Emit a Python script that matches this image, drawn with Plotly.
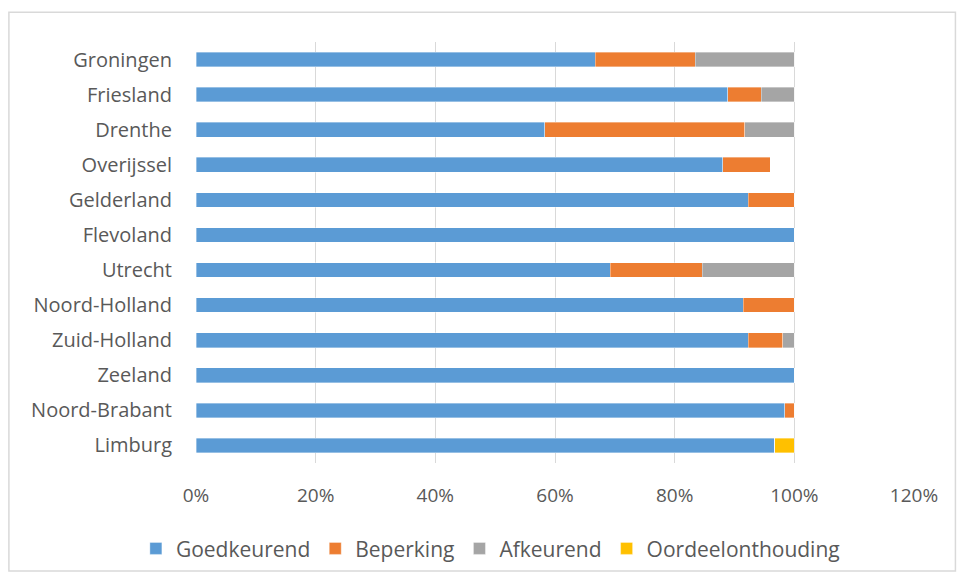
import plotly.graph_objects as go

provinces = ["Groningen", "Friesland", "Drenthe", "Overijssel", "Gelderland", "Flevoland",
             "Utrecht", "Noord-Holland", "Zuid-Holland", "Zeeland", "Noord-Brabant", "Limburg"]
goedkeurend = [0.667, 0.889, 0.583, 0.880, 0.923, 1.000, 0.692, 0.915, 0.923, 1.000, 0.984, 0.967]
beperking = [0.167, 0.056, 0.334, 0.080, 0.077, 0.0, 0.154, 0.085, 0.058, 0.0, 0.016, 0.0]
afkeurend = [0.166, 0.055, 0.083, 0.0, 0.0, 0.0, 0.154, 0.0, 0.019, 0.0, 0.0, 0.0]
oordeelonthouding = [0.0, 0.0, 0.0, 0.0, 0.0, 0.0, 0.0, 0.0, 0.0, 0.0, 0.0, 0.033]
x_ticks = [0, 0.2, 0.4, 0.6, 0.8, 1.0, 1.2]

series = [
    ("Goedkeurend", goedkeurend, "#5B9BD5"),
    ("Beperking", beperking, "#ED7D31"),
    ("Afkeurend", afkeurend, "#A5A5A5"),
    ("Oordeelonthouding", oordeelonthouding, "#FFC000"),
]

fig = go.Figure()
for name, vals, color in series:
    fig.add_trace(go.Bar(
        y=provinces, x=vals, name=name, orientation="h",
        marker=dict(color=color, line=dict(width=0.6, color="rgba(255,255,255,0.6)")),
    ))

top, bottom = 42, 467
plot_h = bottom - top
font_family = "Open Sans, Liberation Sans, sans-serif"
fig.update_layout(
    barmode="stack",
    bargap=0.58,
    width=960, height=581,
    margin=dict(l=196, r=46, t=top, b=581 - bottom),
    paper_bgcolor="white", plot_bgcolor="white",
    font=dict(family=font_family, color="#595959", size=19),
    xaxis=dict(range=[0, 1.2], tickvals=x_ticks, tickformat=".0%",
               showgrid=True, gridcolor="#D9D9D9", gridwidth=1,
               zeroline=False, showline=False, ticks="", automargin=False,
               tickfont=dict(size=19, color="#595959"), ticklabelstandoff=19),
    yaxis=dict(categoryorder="array", categoryarray=provinces, autorange="reversed",
               showgrid=False, zeroline=False, showline=False, ticks="", automargin=False,
               tickfont=dict(size=20, color="#595959"), ticklabelstandoff=23),
    legend=dict(orientation="h", x=0.41, xanchor="center", y=-0.155, yanchor="top",
                font=dict(size=21, color="#595959"), traceorder="normal",
                itemwidth=30, entrywidthmode="pixels"),
    showlegend=True,
    shapes=[dict(type="rect", xref="paper", yref="paper",
                 x0=(9 - 196) / 717.6, x1=(955 - 196) / 717.6,
                 y0=-(576 - bottom) / plot_h, y1=(bottom - 12) / plot_h,
                 line=dict(color="#D9D9D9", width=1.5), fillcolor="rgba(0,0,0,0)")],
)

fig.write_html("out.html", config={"displayModeBar": False},
               post_script="document.body.style.margin='0';")
